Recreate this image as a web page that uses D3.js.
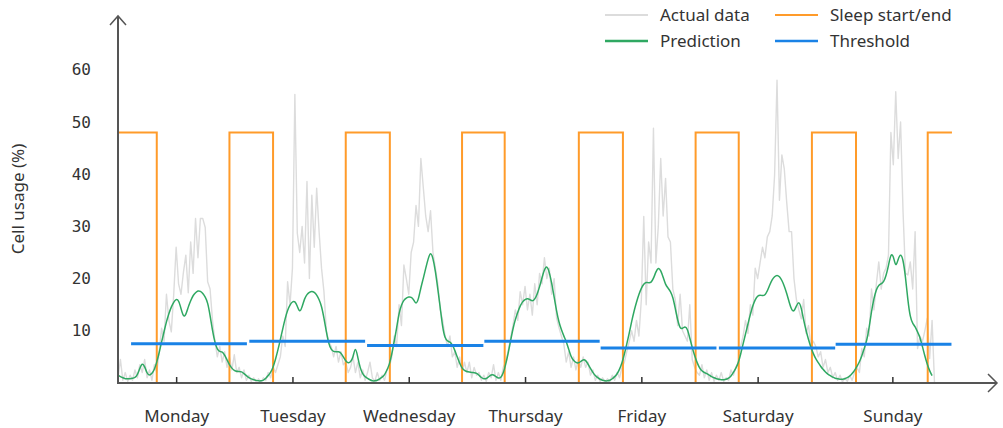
<!DOCTYPE html>
<html>
<head>
<meta charset="utf-8">
<script src="https://cdn.jsdelivr.net/npm/d3@7"></script>
<style>
  body { margin: 0; background: #fff; }
  text { font-family: "Noto Sans", sans-serif; fill: #333; }
</style>
</head>
<body>
<div id="vis"></div>
<script>
// values, half-hour steps, one array per day
let actualMon = [1, 4.5, 0.5, 2, 0.3, 1.5, 0.5, 2.5, 1, 3.5, 2, 4.5, 1, 2.5, 0.5, 3.5, 2, 6, 10.5, 8, 17, 12, 9.8, 17, 26, 19, 17, 21.2, 24.5, 17.3, 27, 21, 31.5, 24, 31.5, 31.5, 29.8, 19.4, 18, 12, 8, 5, 7, 4, 6, 3, 5, 2.5]
let actualTue = [5.4, 2, 3, 1, 2.5, 0.5, 1.5, 0.3, 1, 0.2, 0.8, 0.1, 1, 0.5, 2, 1, 3, 2, 3.5, 5, 9, 7, 19.4, 15, 22, 55.3, 28.7, 25, 30, 23, 38.6, 20, 36, 26, 37.3, 29, 22, 17.5, 10, 8, 7, 5, 7, 4, 6, 3.5, 4, 2]
let actualWed = [3, 5, 2, 4, 1, 2.5, 0.5, 2, 4, 1, 0.3, 2, 0.5, 1.5, 0.5, 2.5, 3, 5, 9, 7, 15, 11, 22.6, 20, 17, 25, 27, 34, 30, 43, 37.5, 32, 29, 33, 25, 22, 19, 14, 12, 9, 7, 9, 5, 6, 3, 5, 2, 4]
let actualThu = [2, 4, 1, 3, 1.5, 2, 0.5, 1.5, 0.3, 2, 1, 3.5, 0.5, 2, 0.5, 3, 4, 6, 8.5, 11, 14, 12, 17.5, 15, 18.5, 14, 17, 13, 19, 15, 21, 19, 24, 20, 22, 17, 20, 12.5, 10.6, 9, 7.5, 4, 6, 3, 5, 2.5, 4.5, 3]
let actualFri = [5, 3, 4, 1.5, 2.5, 0.5, 1.5, 0.3, 1, 0.2, 0.8, 0.3, 1.5, 0.5, 2, 1, 3, 4, 6, 8, 10, 8, 12, 9, 16, 31.9, 15, 27, 23, 48.8, 23, 30, 43, 32, 39.2, 28, 27, 18, 16, 11, 17, 10, 9, 8, 15, 4.5, 3, 2]
let actualSat = [1.5, 3.5, 1, 2.5, 0.5, 2, 0.3, 1.5, 0.5, 2, 0.3, 1, 0.5, 2.5, 1.5, 3, 4, 7, 9, 12, 9.5, 15, 13, 22, 20, 23, 26, 24, 28, 29, 32, 39.8, 58, 35, 43.7, 41, 34.6, 29, 29, 20, 16, 14, 12.3, 16, 9.5, 11, 7, 8]
let actualSun = [7, 5, 6, 3, 4.5, 2, 3, 1, 2, 0.5, 1.5, 0.2, 1, 0.3, 1.5, 0.5, 2, 3, 2, 6.6, 5, 10.5, 9, 18, 14, 19, 23.2, 18, 21, 22, 24.5, 48, 41.8, 55.8, 43, 50, 33, 21, 20.7, 23.2, 18, 29, 6.6, 9, 7.9, 10, 12.4, 4.7, 12, 0]

let predMon = [1.5, 1.2, 1.0, 0.8, 0.8, 0.8, 0.9, 1.0, 1.5, 2.8, 3.9, 3.2, 1.8, 1.4, 1.8, 2.5, 4.0, 5.8, 7.9, 9.8, 11.8, 13.3, 14.6, 15.5, 16.1, 15.9, 14.3, 12.6, 13.0, 14.6, 15.8, 16.8, 17.3, 17.7, 17.6, 17.2, 16.5, 15.5, 13.0, 10.0, 7.7, 6.4, 6.0, 6.0, 5.4, 4.4, 3.5, 2.8]
let predTue = [2.4, 2.2, 2.2, 2.2, 1.8, 1.4, 1.0, 0.8, 0.6, 0.5, 0.4, 0.4, 0.5, 0.9, 1.4, 2.0, 3.0, 4.5, 6.3, 8.3, 10.4, 12.4, 14.0, 15.0, 15.6, 15.7, 14.8, 13.4, 14.6, 16.2, 17.0, 17.4, 17.6, 17.4, 16.9, 16.0, 14.8, 12.5, 9.8, 7.4, 6.4, 6.0, 6.0, 6.0, 5.8, 5.0, 4.2, 3.8]
let predWed = [4.0, 4.8, 7.2, 4.8, 2.8, 1.7, 1.2, 0.9, 0.6, 0.4, 0.4, 0.5, 0.8, 1.1, 1.5, 2.5, 3.5, 5.5, 8.0, 10.5, 13.5, 15.0, 15.9, 16.3, 16.5, 16.5, 16.0, 15.0, 16.0, 18.3, 20.0, 22.0, 23.8, 25.2, 24.0, 21.5, 18.0, 14.5, 10.5, 8.5, 8.0, 7.9, 7.3, 6.3, 5.0, 3.8, 2.8, 2.4]
let predThu = [2.2, 2.1, 2.0, 2.0, 1.9, 1.5, 1.0, 0.8, 0.8, 1.2, 1.6, 1.6, 1.2, 0.9, 1.0, 1.8, 3.5, 5.6, 8.0, 10.4, 12.2, 13.6, 14.8, 15.6, 16.0, 16.2, 16.0, 15.6, 16.0, 17.0, 18.4, 20.2, 21.8, 22.5, 21.3, 19.2, 16.5, 13.8, 11.6, 10.2, 9.0, 8.0, 6.5, 5.0, 4.3, 3.9, 3.8, 4.1]
let predFri = [4.5, 4.4, 3.6, 2.8, 2.0, 1.4, 1.0, 0.7, 0.5, 0.4, 0.4, 0.5, 0.8, 1.2, 1.7, 2.6, 3.8, 5.5, 7.5, 9.5, 11.8, 13.8, 15.5, 17.0, 18.2, 19.0, 19.3, 19.2, 19.2, 20.0, 21.3, 22.2, 21.6, 20.3, 18.8, 18.2, 17.6, 16.5, 14.3, 12.0, 10.4, 10.4, 10.9, 10.4, 8.6, 6.8, 5.2, 3.9]
let predSat = [2.9, 2.3, 2.0, 1.8, 1.5, 1.2, 1.0, 0.8, 0.7, 0.6, 0.6, 0.7, 0.9, 1.3, 2.0, 2.8, 3.8, 5.5, 7.5, 9.4, 11.3, 13.2, 14.8, 16.0, 16.7, 16.9, 16.7, 16.8, 17.6, 18.8, 19.8, 20.4, 20.7, 20.4, 19.7, 18.6, 17.2, 15.5, 14.0, 13.6, 14.8, 15.7, 14.5, 12.0, 10.0, 8.3, 6.8, 5.6]
let predSun = [4.6, 3.9, 3.2, 2.6, 2.1, 1.7, 1.4, 1.1, 0.9, 0.8, 0.7, 0.7, 0.8, 1.0, 1.3, 1.8, 2.4, 3.2, 4.0, 5.2, 6.6, 8.0, 10.5, 13.8, 16.2, 18.0, 18.8, 19.0, 19.3, 20.5, 22.5, 24.8, 24.5, 22.0, 23.8, 24.8, 23.8, 20.5, 15.8, 12.5, 11.4, 10.8, 9.8, 8.8, 7.0, 5.2, 3.6, 2.3, 1.4]

// threshold per day (value, start hour, end hour)
let threshold = [7.5, 8.0, 7.2, 8.0, 6.7, 6.7, 7.4]
let thresholdStart = [2.7, 27.1, 51.4, 75.6, 99.6, 124.0, 148.1]
let thresholdEnd = [26.6, 51.0, 75.4, 99.4, 123.5, 148.0, 172.0]

// sleep window: goes up at sleepOn, down at sleepOff
let sleepOn = [0, 23, 47, 71, 95.1, 119.2, 143.2, 167.1]
let sleepOff = [8, 32, 56.1, 79.8, 104.2, 128.1, 152.3, 172.1]
let sleepLevel = 48

let dayNames = ['Monday', 'Tuesday', 'Wednesday', 'Thursday', 'Friday', 'Saturday', 'Sunday']
let dayTicks = [12, 36, 60, 84, 108, 132, 159.8]
let yTicks = [10, 20, 30, 40, 50, 60]

let width = 1003, height = 428

let svg = d3.select('#vis')
  .append('svg')
  .attr('width', width)
  .attr('height', height)
  .attr('viewBox', [0, 0, width, height].join(' '))

let x = d3.scaleLinear().domain([0, 181.5]).range([118, 997.5])
let y = d3.scaleLinear().domain([0, 60]).range([383, 69.8])

let actual = [actualMon, actualTue, actualWed, actualThu, actualFri, actualSat, actualSun]
  .flat().map((v, i) => ({ h: i * 0.5, v: v }))
let prediction = [predMon, predTue, predWed, predThu, predFri, predSat, predSun]
  .flat().map((v, i) => ({ h: i * 0.5, v: v }))

let sleep = []
sleepOn.forEach((on, i) => {
  sleep.push({ h: on, v: sleepLevel })
  sleep.push({ h: sleepOff[i], v: i == sleepOn.length - 1 ? sleepLevel : 0 })
})

let colors = {
  actual: '#dcdcdc',
  sleep: '#ff9b2a',
  prediction: '#2fa862',
  threshold: '#1a82e6'
}

let line = d3.line().x(d => x(d.h)).y(d => y(d.v))

// actual data
svg.append('path')
  .datum(actual)
  .attr('fill', 'none')
  .attr('stroke', colors.actual)
  .attr('stroke-width', 1.4)
  .attr('stroke-linejoin', 'round')
  .attr('d', line)

// sleep start/end
svg.append('path')
  .datum(sleep)
  .attr('fill', 'none')
  .attr('stroke', colors.sleep)
  .attr('stroke-width', 2)
  .attr('d', line.curve(d3.curveStepAfter))

// prediction
svg.append('path')
  .datum(prediction)
  .attr('fill', 'none')
  .attr('stroke', colors.prediction)
  .attr('stroke-width', 1.5)
  .attr('d', d3.line().x(d => x(d.h)).y(d => y(d.v)).curve(d3.curveBasis))

// threshold
svg.selectAll('.thr')
  .data(threshold)
  .enter().append('line')
  .attr('class', 'thr')
  .attr('x1', (d, i) => x(thresholdStart[i]))
  .attr('x2', (d, i) => x(thresholdEnd[i]))
  .attr('y1', d => y(d))
  .attr('y2', d => y(d))
  .attr('stroke', colors.threshold)
  .attr('stroke-width', 3)

// axes
let axisColor = '#555'
svg.append('line')
  .attr('x1', 118).attr('x2', 118).attr('y1', 16).attr('y2', 384)
  .attr('stroke', axisColor).attr('stroke-width', 2)
svg.append('path')
  .attr('d', 'M110,25 L118,16 L126,25')
  .attr('fill', 'none').attr('stroke', axisColor).attr('stroke-width', 1.5)
svg.append('line')
  .attr('x1', 117).attr('x2', 997).attr('y1', 383).attr('y2', 383)
  .attr('stroke', axisColor).attr('stroke-width', 2)
svg.append('path')
  .attr('d', 'M988,374 L997,383 L988,392')
  .attr('fill', 'none').attr('stroke', axisColor).attr('stroke-width', 1.5)

let xAxis = svg.append('g')
  .attr('transform', 'translate(0,383)')
  .call(d3.axisBottom(x)
    .tickValues(dayTicks)
    .tickFormat((d, i) => dayNames[i])
    .tickSizeInner(-6)
    .tickSizeOuter(0)
    .tickPadding(27))
xAxis.select('.domain').remove()
xAxis.selectAll('line').attr('stroke', '#333').attr('stroke-width', 1.5)
xAxis.selectAll('text')
  .style('font-family', '"Noto Sans", sans-serif')
  .style('font-size', '17px')
  .attr('fill', '#333')

let yAxis = svg.append('g')
  .attr('transform', 'translate(118,0)')
  .call(d3.axisLeft(y).tickValues(yTicks).tickSize(0).tickPadding(27))
yAxis.select('.domain').remove()
yAxis.selectAll('text')
  .style('font-family', '"DejaVu Sans Mono", monospace')
  .style('font-size', '16px')
  .attr('fill', '#222')

svg.append('text')
  .attr('transform', 'translate(24,199) rotate(-90)')
  .attr('text-anchor', 'middle')
  .style('font-size', '17px')
  .text('Cell usage (%)')

// legend
let legendItems = [
  { name: 'Actual data', color: colors.actual, w: 2, col: 0, row: 0 },
  { name: 'Prediction', color: colors.prediction, w: 2.5, col: 0, row: 1 },
  { name: 'Sleep start/end', color: colors.sleep, w: 2, col: 1, row: 0 },
  { name: 'Threshold', color: colors.threshold, w: 2.5, col: 1, row: 1 }
]
let legend = svg.selectAll('.legend')
  .data(legendItems)
  .enter().append('g')
  .attr('class', 'legend')
  .attr('transform', d => 'translate(' + (605 + d.col * 170) + ',' + (15 + d.row * 26) + ')')
legend.append('line')
  .attr('x1', 0).attr('x2', 43)
  .attr('stroke', d => d.color)
  .attr('stroke-width', d => d.w)
legend.append('text')
  .attr('x', 55)
  .attr('dy', '0.35em')
  .style('font-size', '17px')
  .text(d => d.name)
</script>
</body>
</html>
